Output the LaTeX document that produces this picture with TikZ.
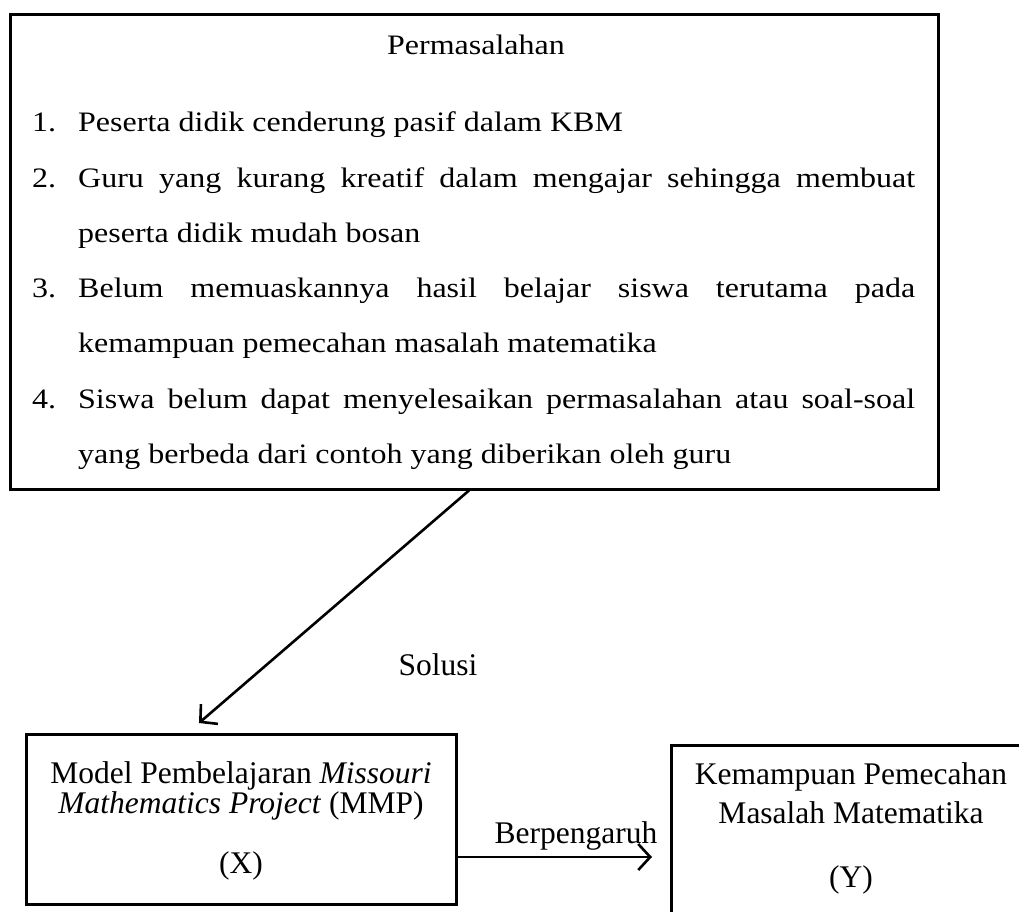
\documentclass[tikz,border=0pt]{standalone}
\usepackage{fontspec}
\setmainfont{Liberation Serif}
\usepackage{graphicx}
\usetikzlibrary{arrows.meta}
\newcommand\topfont{\fontsize{32}{38}\selectfont}
\newcommand\botfont{\fontsize{31.5}{38}\selectfont}
\newcommand\sq[1]{\scalebox{1}[0.88]{#1}}
\newcommand\jl[1]{\makebox[837pt][s]{#1}}
\begin{document}
\begin{tikzpicture}[x=1pt,y=-1pt,
  box/.style={draw, line width=3pt, inner sep=0pt},
  conn/.style={line width=2.6pt, -{Straight Barb[length=12pt,width=26pt,line width=2.6pt]}},
  ln/.style={anchor=base west, inner sep=0pt, font=\topfont},
  lbl/.style={anchor=base, inner sep=0pt, font=\botfont}]
\useasboundingbox (0,0) rectangle (1019,912);
\clip (0,0) rectangle (1019,912);
% top box
\node[box, minimum width=928pt, minimum height=474pt] (prob) at (474,252) {};
\node[anchor=base, inner sep=0pt, font=\topfont] (ttl) at (476,55) {\sq{Permasalahan}};
\node[ln] (n1) at (32,132) {\sq{1.}};
\node[ln] (t1) at (78,132) {\sq{Peserta didik cenderung pasif dalam KBM}};
\node[ln] (n2) at (32,187) {\sq{2.}};
\node[ln] (t2) at (78,187) {\sq{\jl{Guru yang kurang kreatif dalam mengajar sehingga membuat}}};
\node[ln] (t2b) at (78,242) {\sq{peserta didik mudah bosan}};
\node[ln] (n3) at (32,297) {\sq{3.}};
\node[ln] (t3) at (78,297) {\sq{\jl{Belum memuaskannya hasil belajar siswa terutama pada}}};
\node[ln] (t3b) at (78,352) {\sq{kemampuan pemecahan masalah matematika}};
\node[ln] (n4) at (32,408) {\sq{4.}};
\node[ln] (t4) at (78,408) {\sq{\jl{Siswa belum dapat menyelesaikan permasalahan atau soal-soal}}};
\node[ln] (t4b) at (78,463) {\sq{yang berbeda dari contoh yang diberikan oleh guru}};
% left box
\node[box, minimum width=430pt, minimum height=170pt] (model) at (241,819) {};
\node[lbl] (m1) at (241,783) {Model Pembelajaran \textit{Missouri}};
\node[lbl] (m2) at (241,813) {\textit{Mathematics Project} (MMP)};
\node[lbl] (m3) at (241,873) {(X)};
% right box
\node[box, minimum width=360pt, minimum height=190pt] (kem) at (851,840) {};
\node[lbl] (k1) at (851,784) {Kemampuan Pemecahan};
\node[lbl] (k2) at (851,823) {Masalah Matematika};
\node[lbl] (k3) at (851,887) {(Y)};
% labels
\node[lbl] (sol) at (438,675) {Solusi};
\node[lbl] (ber) at (576,843) {Berpengaruh};
% connectors
\coordinate (tipX) at (199,723);
\coordinate (tipY) at (652,857);
\draw[conn] ([xshift=-5pt]prob.south) -- (tipX);
\draw[conn] ([yshift=-38pt]model.east) -- (tipY);
\end{tikzpicture}
\end{document}
